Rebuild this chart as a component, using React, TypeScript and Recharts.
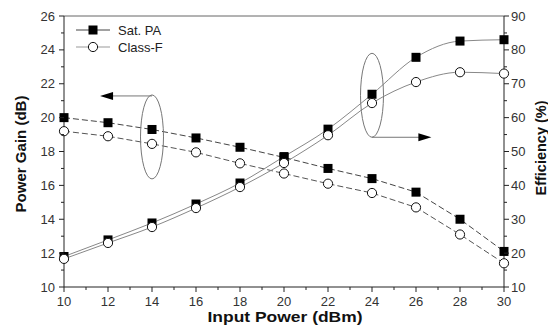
import {
  ComposedChart,
  Line,
  XAxis,
  YAxis,
  ReferenceLine,
  ReferenceDot,
  Customized,
} from 'recharts';

const inputPower = [10, 12, 14, 16, 18, 20, 22, 24, 26, 28, 30];
const satGain = [20.0, 19.7, 19.3, 18.8, 18.25, 17.65, 17.0, 16.4, 15.6, 14.0, 12.1];
const classFGain = [19.2, 18.9, 18.45, 17.95, 17.3, 16.7, 16.1, 15.55, 14.7, 13.1, 11.4];
const satEff = [19.0, 23.9, 28.9, 34.5, 40.7, 48.5, 56.6, 66.9, 77.8, 82.6, 83.0];
const classFEff = [18.3, 23.0, 27.7, 33.3, 39.5, 46.6, 54.8, 64.3, 70.5, 73.4, 73.0];

const xTicks = [10, 11, 12, 13, 14, 15, 16, 17, 18, 19, 20, 21, 22, 23, 24, 25, 26, 27, 28, 29, 30];
const gainTicks = [10, 11, 12, 13, 14, 15, 16, 17, 18, 19, 20, 21, 22, 23, 24, 25, 26];
const effTicks = [10, 15, 20, 25, 30, 35, 40, 45, 50, 55, 60, 65, 70, 75, 80, 85, 90];

const data = inputPower.map((p, i) => ({
  p,
  satGain: satGain[i],
  classFGain: classFGain[i],
  satEff: satEff[i],
  classFEff: classFEff[i],
}));

const font = '"Liberation Sans", Arial, sans-serif';
const axisColor = '#222';

const Square = (props: any) => {
  const { cx, cy, index } = props;
  return <rect key={index} x={cx - 4.5} y={cy - 4.5} width={9} height={9} fill="#000" />;
};

const Circle = (props: any) => {
  const { cx, cy, index } = props;
  return <circle key={index} cx={cx} cy={cy} r={4.6} fill="#fff" stroke="#111" strokeWidth={1} />;
};

const LeftTick = (props: any) => {
  const { x, y, payload } = props;
  const v = payload.value;
  const ax = x + 9;
  const major = v % 2 === 0;
  return (
    <g>
      <line x1={ax - (major ? 5 : 3)} x2={ax} y1={y} y2={y} stroke={axisColor} />
      {major && (
        <text x={x} y={y} dy={4.5} textAnchor="end" fontSize={13} fontFamily={font} fill="#333">
          {v}
        </text>
      )}
    </g>
  );
};

const RightTick = (props: any) => {
  const { x, y, payload } = props;
  const v = payload.value;
  const ax = x - 7;
  const major = v % 10 === 0;
  return (
    <g>
      <line x1={ax} x2={ax + (major ? 5 : 3)} y1={y} y2={y} stroke={axisColor} />
      {major && (
        <text x={x} y={y} dy={4.5} textAnchor="start" fontSize={13} fontFamily={font} fill="#333">
          {v}
        </text>
      )}
    </g>
  );
};

const BottomTick = (props: any) => {
  const { x, y, payload } = props;
  const v = payload.value;
  const ay = y - 9;
  const major = v % 2 === 0;
  return (
    <g>
      <line x1={x} x2={x} y1={ay} y2={ay + (major ? 5 : 3)} stroke={axisColor} />
      {major && (
        <text x={x} y={y} dy={10} textAnchor="middle" fontSize={13} fontFamily={font} fill="#333">
          {v}
        </text>
      )}
    </g>
  );
};

const Ellipse = (props: any) => (
  <ellipse cx={props.cx} cy={props.cy} rx={11.5} ry={42} fill="none" stroke="#777" strokeWidth={1} />
);

const HeadLeft = (props: any) => (
  <polygon
    points={`${props.cx},${props.cy} ${props.cx + 13},${props.cy - 4} ${props.cx + 13},${props.cy + 4}`}
    fill="#000"
  />
);

const HeadRight = (props: any) => (
  <polygon
    points={`${props.cx},${props.cy} ${props.cx - 13},${props.cy - 4} ${props.cx - 13},${props.cy + 4}`}
    fill="#000"
  />
);

// legend and axis titles drawn into the chart svg
const Decorations = () => (
  <g fontFamily={font}>
    <g transform="translate(74,22)">
      <line x1={2} x2={36} y1={8} y2={8} stroke="#444" />
      <rect x={14.5} y={3.5} width={9} height={9} fill="#000" />
      <text x={44} y={12.5} fontSize={13} fill="#222">
        Sat. PA
      </text>
      <line x1={2} x2={36} y1={25} y2={25} stroke="#999" />
      <circle cx={19} cy={25} r={4.6} fill="#fff" stroke="#111" />
      <text x={44} y={29.5} fontSize={13} fill="#222">
        Class-F
      </text>
    </g>
    <g fontWeight="bold" fill="#111">
      <text x={285} y={322} textAnchor="middle" fontSize={15} textLength={155} lengthAdjust="spacingAndGlyphs">
        Input Power (dBm)
      </text>
      <text
        transform="translate(26,154) rotate(-90)"
        textAnchor="middle"
        fontSize={14}
        textLength={117}
        lengthAdjust="spacingAndGlyphs"
      >
        Power Gain (dB)
      </text>
      <text
        transform="translate(546,148) rotate(-90)"
        textAnchor="middle"
        fontSize={14}
        textLength={95}
        lengthAdjust="spacingAndGlyphs"
      >
        Efficiency (%)
      </text>
    </g>
  </g>
);

export default function App() {
  return (
    <div style={{ position: 'absolute', left: 0, top: 0, width: 548, height: 329, background: '#fff' }}>
      <ComposedChart
        width={548}
        height={329}
        data={data}
        margin={{ top: 16, right: 0, bottom: 12, left: 0 }}
      >
        <XAxis
          dataKey="p"
          type="number"
          domain={[10, 30]}
          ticks={xTicks}
          interval={0}
          tick={<BottomTick />}
          tickLine={false}
          tickSize={5}
          tickMargin={4}
          height={30}
          stroke={axisColor}
        />
        <YAxis
          yAxisId="left"
          domain={[10, 26]}
          ticks={gainTicks}
          interval={0}
          tick={<LeftTick />}
          tickLine={false}
          tickSize={5}
          tickMargin={4}
          width={64}
          stroke={axisColor}
        />
        <YAxis
          yAxisId="right"
          orientation="right"
          domain={[10, 90]}
          ticks={effTicks}
          interval={0}
          tick={<RightTick />}
          tickLine={false}
          tickSize={5}
          tickMargin={2}
          width={44}
          stroke={axisColor}
        />
        <ReferenceLine yAxisId="left" y={26} stroke="#666" strokeWidth={1} />

        <ReferenceDot yAxisId="left" x={14} y={18.86} shape={<Ellipse />} ifOverflow="visible" />
        <ReferenceLine
          yAxisId="left"
          segment={[{ x: 14, y: 21.28 }, { x: 11.8, y: 21.28 }]}
          stroke="#777"
        />
        <ReferenceDot yAxisId="left" x={11.64} y={21.28} shape={<HeadLeft />} ifOverflow="visible" />

        <ReferenceDot yAxisId="right" x={24} y={66.6} shape={<Ellipse />} ifOverflow="visible" />
        <ReferenceLine
          yAxisId="right"
          segment={[{ x: 24, y: 54.2 }, { x: 26.4, y: 54.2 }]}
          stroke="#777"
        />
        <ReferenceDot yAxisId="right" x={26.7} y={54.2} shape={<HeadRight />} ifOverflow="visible" />

        <Line
          yAxisId="left"
          dataKey="satGain"
          type="linear"
          stroke="#444"
          strokeWidth={1}
          strokeDasharray="6 3"
          dot={<Square />}
          isAnimationActive={false}
        />
        <Line
          yAxisId="left"
          dataKey="classFGain"
          type="linear"
          stroke="#555"
          strokeWidth={1}
          strokeDasharray="6 3"
          dot={<Circle />}
          isAnimationActive={false}
        />
        <Line
          yAxisId="right"
          dataKey="satEff"
          type="monotone"
          stroke="#888"
          strokeWidth={1}
          dot={<Square />}
          isAnimationActive={false}
        />
        <Line
          yAxisId="right"
          dataKey="classFEff"
          type="monotone"
          stroke="#888"
          strokeWidth={1}
          dot={<Circle />}
          isAnimationActive={false}
        />
        <Customized component={Decorations} />
      </ComposedChart>
    </div>
  );
}
